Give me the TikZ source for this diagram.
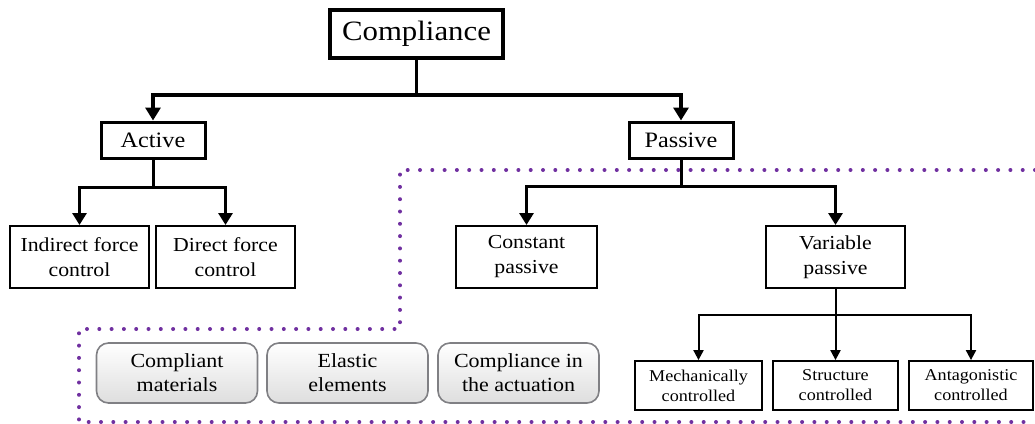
\documentclass[tikz,border=0pt]{standalone}
\usepackage{fontspec}
\setmainfont{Liberation Serif}[FakeStretch=1.1]
\usetikzlibrary{arrows.meta,shadings}
\definecolor{dotpurple}{RGB}{112,48,160}
\definecolor{boxgray}{RGB}{128,128,132}
\tikzset{
  topbox/.style={draw,line width=4pt,minimum width=173pt,minimum height=48pt,inner sep=0pt,font=\fontsize{28}{32}\selectfont},
  midbox/.style={draw,line width=3pt,minimum width=104pt,minimum height=36pt,inner sep=0pt,font=\fontsize{22}{26}\selectfont},
  lowbox/.style={draw,line width=2pt,minimum width=139pt,minimum height=62pt,inner sep=0pt,align=center,font=\fontsize{19.8}{25}\selectfont},
  subbox/.style={draw,line width=1.8pt,minimum height=49pt,inner sep=0pt,align=center,font=\fontsize{16.5}{20}\selectfont},
  graybox/.style={draw=boxgray,line width=1.6pt,rounded corners=12pt,minimum width=161pt,minimum height=60pt,inner sep=0pt,align=center,top color=white,bottom color=black!13,font=\fontsize{20}{24}\selectfont},
  bigarrow/.style={line width=3.5pt,-{Triangle[length=13pt,width=15pt]}},
  medarrow/.style={line width=3pt,-{Triangle[length=12pt,width=14pt]}},
  smallarrow/.style={line width=2pt,-{Triangle[length=10pt,width=10pt]}},
  dotline/.style={dotpurple,line width=4pt,line cap=round,dash pattern=on 0pt off 12.3pt}
}
\begin{document}
\begin{tikzpicture}[x=1pt,y=-1pt]
\useasboundingbox (0,0) rectangle (1035,423);
% dotted region
\draw[dotline] (1035,170) -- (400,170) -- (400,329) -- (79,329) -- (79,422) -- (1035,422);
% nodes
\node[topbox] (comp) at (416.5,34) {Compliance};
\node[midbox] (active) at (153,140) {Active};
\node[midbox] (passive) at (681,140) {Passive};
\node[lowbox] (indirect) at (79.5,257) {Indirect force\\control};
\node[lowbox] (direct) at (225.5,257) {Direct force\\control};
\node[lowbox,minimum width=141pt] (constant) at (526.5,257) {Constant\\passive};
\node[lowbox] (variable) at (835.5,257) {Variable\\passive};
\node[subbox,minimum width=127pt] (mech) at (698.5,385.5) {Mechanically\\controlled};
\node[subbox,minimum width=125pt] (struct) at (835.5,385.5) {Structure\\controlled};
\node[subbox,minimum width=124pt] (antag) at (971,385.5) {Antagonistic\\controlled};
\node[graybox] (matl) at (177,373) {Compliant\\materials};
\node[graybox] (elast) at (347.5,373) {Elastic\\elements};
\node[graybox] (actu) at (518.5,373) {Compliance in\\the actuation};
% junctions
\coordinate (j1) at (416.5,95);
\coordinate (j2) at (153,187);
\coordinate (j3) at (681,186);
\coordinate (j4) at (835.5,315);
% connectors
\draw[line width=3.5pt] (comp.south) -- (j1);
\draw[bigarrow] (j1) -| (active.north);
\draw[bigarrow] (j1) -| (passive.north);
\draw[line width=3pt] (active.south) -- (j2);
\draw[medarrow] (j2) -| (indirect.north);
\draw[medarrow] (j2) -| (direct.north);
\draw[line width=3pt] (passive.south) -- (j3);
\draw[medarrow] (j3) -| (constant.north);
\draw[medarrow] (j3) -| (variable.north);
\draw[line width=2pt] (variable.south) -- (j4);
\draw[smallarrow] (j4) -| (mech.north);
\draw[smallarrow] (j4) -- (struct.north);
\draw[smallarrow] (j4) -| (antag.north);
\end{tikzpicture}
\end{document}
